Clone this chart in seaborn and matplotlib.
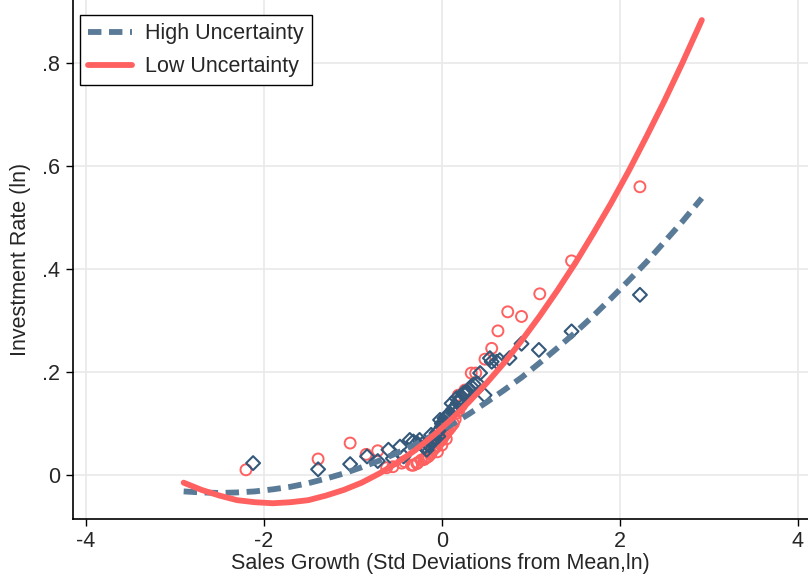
import numpy as np
import pandas as pd
import matplotlib
matplotlib.use("Agg")
import matplotlib.pyplot as plt
import seaborn as sns

# fitted curves
fit_x = [-2.9, -2.7, -2.5, -2.3, -2.1, -1.9, -1.7, -1.5, -1.3, -1.1,
         -0.9, -0.7, -0.5, -0.3, -0.1, 0.1, 0.3, 0.5, 0.7, 0.9,
         1.1, 1.3, 1.5, 1.7, 1.9, 2.1, 2.3, 2.5, 2.7, 2.92]
fit_high = [-0.032, -0.034, -0.035, -0.034, -0.032, -0.028, -0.023, -0.016,
            -0.007, 0.003, 0.015, 0.028, 0.043, 0.059, 0.077, 0.097, 0.118,
            0.141, 0.165, 0.190, 0.218, 0.247, 0.277, 0.309, 0.343, 0.378,
            0.414, 0.453, 0.492, 0.538]
fit_low = [-0.015, -0.029, -0.040, -0.049, -0.053, -0.055, -0.053, -0.049,
           -0.040, -0.029, -0.015, 0.003, 0.024, 0.048, 0.076, 0.107, 0.141,
           0.178, 0.218, 0.262, 0.309, 0.359, 0.412, 0.469, 0.528, 0.591,
           0.658, 0.727, 0.800, 0.884]

# binned points, high uncertainty (diamonds)
high_x = [-2.12, -1.39, -1.03, -0.84, -0.72, -0.60, -0.55, -0.47, -0.43,
          -0.36, -0.32, -0.25, -0.17, -0.12, -0.06, -0.02, 0.0, 0.03, 0.09,
          0.11, 0.15, 0.165, 0.24, 0.28, 0.33, 0.40, 0.43, 0.48, 0.54, 0.56,
          0.615, 0.65, 0.76, 0.895, 1.09, 1.457, 2.225,
          -0.20, -0.14, -0.09, -0.04, 0.05, 0.13, 0.20,
          -0.28, -0.22, -0.19, -0.15, -0.10, -0.08, -0.04, -0.12, 0.0,
          0.01, 0.05, 0.07, 0.12, 0.18, 0.21, 0.27, 0.30, 0.36]
high_y = [0.023, 0.011, 0.021, 0.036, 0.027, 0.049, 0.032, 0.055, 0.036,
          0.068, 0.065, 0.068, 0.049, 0.062, 0.081, 0.107, 0.094, 0.110, 0.120,
          0.139, 0.133, 0.149, 0.159, 0.159, 0.172, 0.178, 0.198, 0.155, 0.227,
          0.220, 0.220, 0.223, 0.227, 0.255, 0.243, 0.279, 0.350,
          0.055, 0.058, 0.070, 0.075, 0.100, 0.128, 0.145,
          0.062, 0.060, 0.055, 0.058, 0.066, 0.072, 0.085, 0.078, 0.100,
          0.098, 0.112, 0.116, 0.126, 0.140, 0.150, 0.160, 0.166, 0.176]

# binned points, low uncertainty (circles)
low_x = [-2.20, -1.39, -1.03, -0.85, -0.72, -0.62, -0.55, -0.45, -0.42,
         -0.34, -0.32, -0.23, -0.15, -0.10, -0.04, 0.015, 0.07, 0.13, 0.165,
         0.185, 0.26, 0.33, 0.38, 0.485, 0.56, 0.63, 0.74, 0.895, 1.10, 1.457,
         2.225, -0.27, -0.19, -0.12, -0.07, -0.01, 0.04, 0.10,
         -0.28, -0.20, -0.17, -0.13, -0.08, -0.06, -0.02, 0.0, 0.03, 0.05,
         0.09, 0.11, 0.15, 0.19, 0.22, -0.05, 0.0, 0.05]
low_y = [0.010, 0.031, 0.062, 0.040, 0.047, 0.014, 0.016, 0.023, 0.026,
         0.019, 0.019, 0.029, 0.036, 0.049, 0.062, 0.074, 0.087, 0.100, 0.120,
         0.155, 0.165, 0.198, 0.198, 0.225, 0.246, 0.280, 0.317, 0.308, 0.352,
         0.416, 0.560, 0.024, 0.032, 0.042, 0.055, 0.068, 0.080, 0.095,
         0.022, 0.030, 0.034, 0.040, 0.052, 0.057, 0.066, 0.070, 0.078, 0.083,
         0.091, 0.096, 0.108, 0.125, 0.135, 0.045, 0.058, 0.070]

x_ticks = [-4, -2, 0, 2, 4]
x_tick_labels = ["-4", "-2", "0", "2", "4"]
y_ticks = [0, 0.2, 0.4, 0.6, 0.8]
y_tick_labels = ["0", ".2", ".4", ".6", ".8"]

RED = "#ff6060"
BLUE_LINE = "#5a7b98"
BLUE_PT = "#34587a"
FS = 15.5

sns.set_theme(style="white")
plt.rcParams["font.family"] = ["Liberation Sans", "DejaVu Sans"]

fits = pd.DataFrame({"x": fit_x, "high": fit_high, "low": fit_low})
hi = pd.DataFrame({"x": high_x, "y": high_y})
lo = pd.DataFrame({"x": low_x, "y": low_y})

fig = plt.figure(figsize=(8.08, 5.76), dpi=100)
ax = fig.add_axes([0.090, 0.0995, 0.9097, 0.9005])

ax.set_xticks(x_ticks)
ax.set_yticks(y_ticks)
ax.grid(True, color="#e9e9e9", lw=1.2, zorder=0)
ax.set_axisbelow(True)

sns.scatterplot(data=lo, x="x", y="y", ax=ax, marker="o", s=62,
                facecolor="none", edgecolor=RED, linewidth=1.4, zorder=3)
sns.scatterplot(data=hi, x="x", y="y", ax=ax, marker="D", s=50,
                facecolor="none", edgecolor=BLUE_PT, linewidth=1.5, zorder=4)

sns.lineplot(data=fits, x="x", y="high", ax=ax, color=BLUE_LINE, lw=4.2,
             sort=False, label="High Uncertainty", zorder=5)
ax.lines[-1].set_dashes((2.3, 1.3))
sns.lineplot(data=fits, x="x", y="low", ax=ax, color=RED, lw=4.2,
             sort=False, label="Low Uncertainty", zorder=5)

ax.set_xlim(-4.146, 4.11)
ax.set_ylim(-0.085, 0.923)
ax.set_xticklabels(x_tick_labels, fontsize=FS)
ax.set_yticklabels(y_tick_labels, fontsize=FS)
ax.tick_params(axis="both", direction="out", length=5, width=1.0,
               color="black", bottom=True, left=True, pad=4)

for side in ["top", "right"]:
    ax.spines[side].set_visible(False)
for side in ["left", "bottom"]:
    ax.spines[side].set_color("black")
    ax.spines[side].set_linewidth(1.2)

ax.set_xlabel("Sales Growth (Std Deviations from Mean,ln)", fontsize=FS, labelpad=0.5)
ax.set_ylabel("Investment Rate (ln)", fontsize=FS, labelpad=8)

leg = ax.legend(loc="upper left", bbox_to_anchor=(0.0095, 0.971), borderaxespad=0,
                fontsize=FS, handlelength=2.05, labelspacing=0.55,
                fancybox=False, frameon=True, borderpad=0.38, handletextpad=0.6)
leg.get_frame().set_edgecolor("black")
leg.get_frame().set_linewidth(1.0)
leg.get_frame().set_alpha(1)

fig.savefig("out.png", dpi=100)
